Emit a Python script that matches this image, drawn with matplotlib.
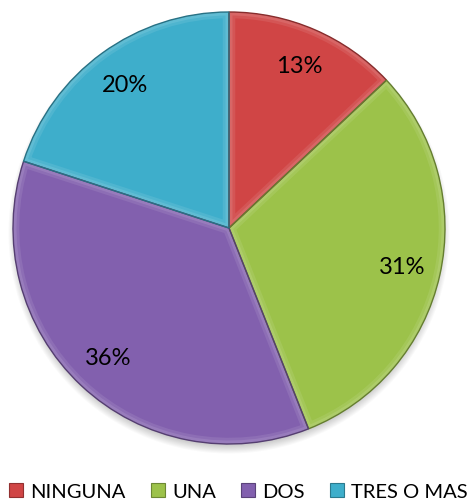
import numpy as np
import matplotlib.pyplot as plt
import matplotlib.colors as mcolors
from matplotlib.lines import Line2D
from matplotlib.patches import Wedge

categorias = ['NINGUNA', 'UNA', 'DOS', 'TRES O MAS']
porcentajes = [13, 31, 36, 20]
colores = ['#D04545', '#9CC24A', '#8260AE', '#3EAECB']

W, H = 477, 502
fig = plt.figure(figsize=(W / 100, H / 100), dpi=100)
ax = fig.add_axes([0, 0, 1, 1])

cx, cy, R = 229, 273, 216


def tono(c, f):
    # f > 0 aclara, f < 0 oscurece
    rgb = np.array(mcolors.to_rgb(c))
    if f > 0:
        return tuple(rgb + (1 - rgb) * f)
    return tuple(rgb * (1 + f))


# sombra difusa debajo del pastel
yy, xx = np.mgrid[0:H, 0:W]
d = np.hypot(xx + 0.5 - cx, yy + 0.5 - (cy - 5))
alpha = np.clip((R + 5 - d) / 12, 0, 1) * 0.45
sombra = np.zeros((H, W, 4))
sombra[..., :3] = 0.4
sombra[..., 3] = alpha
ax.imshow(sombra, extent=(0, W, 0, H), origin='lower', zorder=0, interpolation='bilinear')

wedges, textos, autotextos = ax.pie(
    porcentajes, colors=colores, startangle=90, counterclock=False,
    center=(cx, cy), radius=R, autopct='%d%%', pctdistance=0.82,
    wedgeprops=dict(edgecolor='none', zorder=1),
    textprops=dict(fontsize=17, family='Lato', color='black'))

# biselado: brillo interior y borde oscuro en cada porción
for w, c in zip(wedges, colores):
    for lw, a in [(9, 0.25), (5, 0.35)]:
        b = Wedge(w.center, w.r, w.theta1, w.theta2, facecolor='none',
                  edgecolor=tono(c, 0.35), lw=lw, alpha=a, zorder=2)
        ax.add_patch(b)
        b.set_clip_path(w)
    borde = Wedge(w.center, w.r, w.theta1, w.theta2, facecolor='none',
                  edgecolor=tono(c, -0.35), lw=1.0, zorder=3)
    ax.add_patch(borde)

for t in autotextos:
    t.set_zorder(5)

ax.set_xlim(0, W)
ax.set_ylim(0, H)
ax.set_axis_off()

handles = [Line2D([], [], marker='s', ls='', markersize=10.5,
                  markerfacecolor=c, markeredgecolor=tono(c, -0.3), markeredgewidth=0.8)
           for c in colores]
fig.legend(handles, categorias, loc='lower center', bbox_to_anchor=(0.5, -0.035),
           ncol=4, frameon=False, prop=dict(family='Lato', size=14.5),
           handletextpad=0.35, columnspacing=1.25, handlelength=0.7)

fig.savefig('out.png', dpi=100)
